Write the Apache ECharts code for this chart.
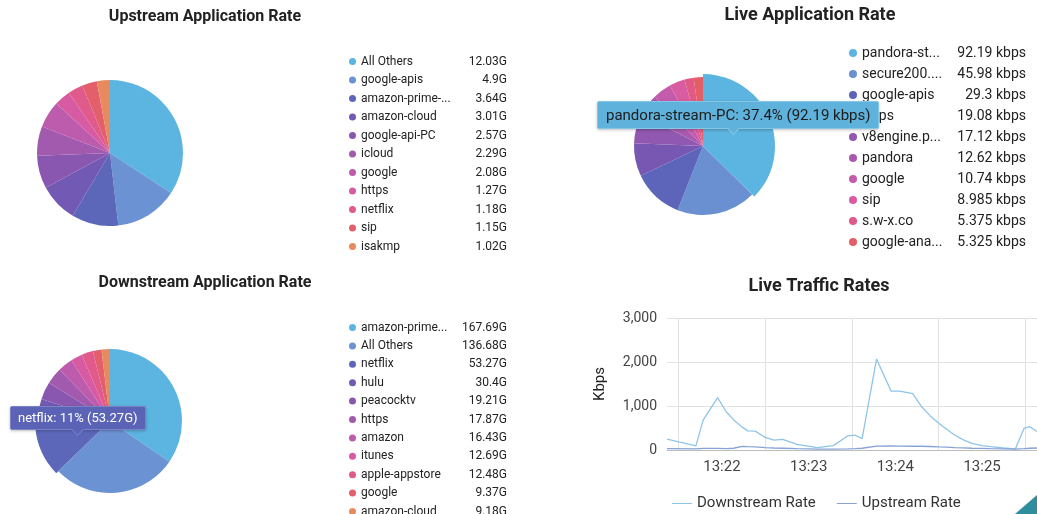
<!DOCTYPE html>
<html><head><meta charset="utf-8">
<script src="https://cdn.jsdelivr.net/npm/echarts@6/dist/echarts.min.js"></script>
<style>
html,body{margin:0;padding:0;background:#fff;overflow:hidden;width:1037px;height:514px;}
.c{position:absolute;left:0;top:0;width:1037px;height:514px;}
#down{height:580px;}
</style></head><body>
<div id="up" class="c"></div><div id="live" class="c"></div><div id="down" class="c"></div><div id="traffic" class="c"></div>
<script>
// ---------- data ----------
const upNames = ['All Others','google-apis','amazon-prime-video','amazon-cloud','google-api-PC','icloud','google','https','netflix','sip','isakmp'];
const upValues = [12.03, 4.9, 3.64, 3.01, 2.57, 2.29, 2.08, 1.27, 1.18, 1.15, 1.02];

const liveNames = ['pandora-stream-PC','secure200.net','google-apis','https','v8engine.pandora.com','pandora','google','sip','s.w-x.co','google-analytics'];
const liveValues = [92.19, 45.98, 29.3, 19.08, 17.12, 12.62, 10.74, 8.985, 5.375, 5.325];

const downNames = ['amazon-prime-video','All Others','netflix','hulu','peacocktv','https','amazon','itunes','apple-appstore','google','amazon-cloud'];
const downValues = [167.69, 136.68, 53.27, 30.4, 19.21, 17.87, 16.43, 12.69, 12.48, 9.37, 9.18];

const times = ['13:21:22','13:21:42','13:21:47','13:21:57','13:22:03','13:22:08','13:22:14','13:22:18','13:22:23','13:22:30','13:22:36','13:22:42','13:22:52','13:23:06','13:23:17','13:23:27','13:23:32','13:23:37','13:23:47','13:23:57','13:24:03','13:24:12','13:24:18','13:24:24','13:24:30','13:24:36','13:24:41','13:24:47','13:24:53','13:25:00','13:25:06','13:25:15','13:25:23','13:25:29','13:25:33','13:25:38'];
const downstreamRate = [245,95,680,1190,870,690,520,435,430,285,225,240,130,55,100,320,340,260,2070,1340,1340,1280,990,780,610,460,340,230,150,100,75,45,25,490,530,420];
const upstreamRate = [30,25,35,35,30,40,80,75,70,55,45,40,30,20,20,25,30,40,90,95,90,85,85,80,70,65,55,50,40,35,30,25,20,30,40,45];
const xRange = ['13:21:22','13:25:38'];
const xLabelTimes = ['13:22:00','13:23:00','13:24:00','13:25:00'];
const xGridTimes = ['13:21:30','13:22:30','13:23:30','13:24:30','13:25:30'];
const yTicks = [0, 1000, 2000, 3000];

// ---------- styles ----------
const palette11 = ['#5cb4e0','#6b93d3','#5c67ba','#7259b3','#8a57b0','#a25aae','#bd5bad','#d65ba3','#e05a8b','#e45f6c','#e78b5f'];
const palette10 = ['#5cb4e0','#6a90d2','#5c65b9','#7857b2','#9058b0','#aa5aae','#c55bab','#d95ba1','#e15a86','#e35e66'];
const FF = 'Roboto, "Noto Sans", sans-serif';

function toSec(t){const p=t.split(':').map(Number);return p[0]*3600+p[1]*60+p[2];}
function fmtTime(sec){const h=Math.floor(sec/3600),m=Math.floor(sec%3600/60);return h+':'+String(m).padStart(2,'0');}

function makePie(id, o){
  const chart = echarts.init(document.getElementById(id));
  const font = o.fontSize + 'px Roboto';
  const lab = {};
  o.names.forEach((n,i)=>{ lab[n] = {t: echarts.format.truncateText(n, o.truncW, font, '...'), v: o.values[i] + o.unit}; });
  const tip = o.tip;
  chart.setOption({
    animation:false,
    title:{text:o.title, left:o.titleX, top:o.titleY, textAlign:'center', padding:0,
      textStyle:{fontFamily:FF, fontSize:o.titleSize, fontWeight:'bold', color:'#222'}},
    tooltip:{trigger:'item', triggerOn:'none', alwaysShowContent:true, showDelay:0, hideDelay:0, transitionDuration:0,
      position:tip.pos, padding:0, borderWidth:0, backgroundColor:'transparent', extraCssText:'box-shadow:none;',
      formatter:p=>{
        const pct = Math.round(p.percent*10)/10;
        return '<div style="position:relative;background:'+tip.bg+';color:'+tip.fg+';font:'+tip.fs+'px Roboto;line-height:'+(tip.fs+3)+'px;padding:'+tip.pad+';border:1px solid '+tip.border+';border-radius:2px;box-shadow:0 1px 3px rgba(0,0,0,0.25);white-space:nowrap;">'
          + p.name + ': ' + pct + '% (' + p.value + o.tipUnit + ')'
          + '<div style="position:absolute;left:'+tip.arrow+'px;bottom:-5px;width:8px;height:8px;background:'+tip.bg+';transform:rotate(45deg);border-right:1px solid '+tip.border+';border-bottom:1px solid '+tip.border+';"></div></div>';
      }},
    legend:{orient:'vertical', left:o.legendX, top:o.legendY, icon:'circle', itemWidth:o.icon, itemHeight:o.icon,
      itemGap:o.gap, selectedMode:false, padding:0, data:o.names,
      formatter:n=>'{n|'+lab[n].t+'}{v|'+lab[n].v+'}',
      textStyle:{fontFamily:FF, fontSize:o.fontSize, color:'#222', lineHeight:o.lh,
        rich:{n:{width:o.nameW, fontFamily:FF, fontSize:o.fontSize, color:'#222', lineHeight:o.lh},
              v:{width:o.valW, align:'right', fontFamily:FF, fontSize:o.fontSize, color:'#222', lineHeight:o.lh}}}},
    series:[{type:'pie', center:o.center, radius:o.radius, startAngle:90, clockwise:true,
      label:{show:false}, labelLine:{show:false},
      emphasis:{scale:true, scaleSize:3, label:{show:false}},
      color:o.colors,
      data:o.names.map((n,i)=>({name:n, value:o.values[i], emphasis:{itemStyle:{color:o.colors[i]}}}))}]
  });
  if (tip.index != null) {
    chart.dispatchAction({type:'highlight', seriesIndex:0, dataIndex:tip.index});
    chart.dispatchAction({type:'showTip', seriesIndex:0, dataIndex:tip.index});
  }
  return chart;
}

makePie('up', {title:'Upstream Application Rate', titleX:205, titleY:9, titleSize:16,
  names:upNames, values:upValues, unit:'G', tipUnit:'G', colors:palette11,
  center:[110,153], radius:73,
  legendX:349, legendY:54.5, icon:7, gap:4.5, lh:14, fontSize:12, nameW:96, valW:50, truncW:93,
  tip:{}});

makePie('live', {title:'Live Application Rate', titleX:810, titleY:6, titleSize:18,
  names:liveNames, values:liveValues, unit:' kbps', tipUnit:' kbps', colors:palette10,
  center:[703,146], radius:69,
  legendX:849, legendY:45, icon:8, gap:5, lh:16, fontSize:14, nameW:92, valW:72, truncW:84,
  tip:{index:0, pos:[597,101], bg:'#5fb2dc', fg:'#1c1c1c', border:'#86c6e6', fs:15, pad:'4px 8px', arrow:131}});

makePie('down', {title:'Downstream Application Rate', titleX:205, titleY:275, titleSize:16,
  names:downNames, values:downValues, unit:'G', tipUnit:'G', colors:palette11,
  center:[110,421], radius:72,
  legendX:349, legendY:320.5, icon:7, gap:4.4, lh:14, fontSize:12, nameW:90, valW:56, truncW:90,
  tip:{index:2, pos:[10,406], bg:'#5b63b6', fg:'#ffffff', border:'#7b82c6', fs:13, pad:'3px 7px', arrow:62}});

// ---------- line chart ----------
const traffic = echarts.init(document.getElementById('traffic'));
traffic.setOption({
  animation:false,
  title:{text:'Live Traffic Rates', left:819, top:277, textAlign:'center', padding:0,
    textStyle:{fontFamily:FF, fontSize:18, fontWeight:'bold', color:'#222'}},
  legend:{left:672, top:496, padding:0, icon:'rect', itemWidth:20, itemHeight:1, itemGap:21, selectedMode:false,
    data:['Downstream Rate','Upstream Rate'], textStyle:{fontFamily:FF, fontSize:15, color:'#333'}},
  grid:{left:667, right:0, top:318, bottom:64, outerBoundsMode:'none'},
  xAxis:{type:'value', min:toSec(xRange[0]), max:toSec(xRange[1]),
    axisLine:{show:true, lineStyle:{color:'#bdbdbd'}},
    axisTick:{show:false, customValues:xGridTimes.map(toSec)},
    axisLabel:{customValues:xLabelTimes.map(toSec), formatter:v=>fmtTime(v), color:'#444', fontSize:15, fontFamily:FF, margin:10},
    splitLine:{show:true, lineStyle:{color:'#e2e2e2'}}},
  yAxis:{type:'value', min:yTicks[0], max:yTicks[yTicks.length-1], interval:1000,
    name:'Kbps', nameLocation:'middle', nameGap:59, nameRotate:90,
    nameTextStyle:{fontFamily:FF, fontSize:15, color:'#222'},
    axisLine:{show:false}, axisTick:{show:false},
    axisLabel:{formatter:v=>v.toLocaleString('en-US'), color:'#444', fontSize:14, fontFamily:FF, margin:10},
    splitLine:{show:true, lineStyle:{color:'#e2e2e2'}}},
  graphic:[{type:'polygon', shape:{points:[[1037,495],[1037,514],[1015,514]]}, style:{fill:'#2f8e9e'}, silent:true}],
  series:[
    {name:'Downstream Rate', type:'line', symbol:'none', color:'#8ec5e8', lineStyle:{width:1.3},
      data:times.map((t,i)=>[toSec(t), downstreamRate[i]])},
    {name:'Upstream Rate', type:'line', symbol:'none', color:'#86a2d6', lineStyle:{width:1.3},
      data:times.map((t,i)=>[toSec(t), upstreamRate[i]])}
  ]
});
</script>
</body></html>
